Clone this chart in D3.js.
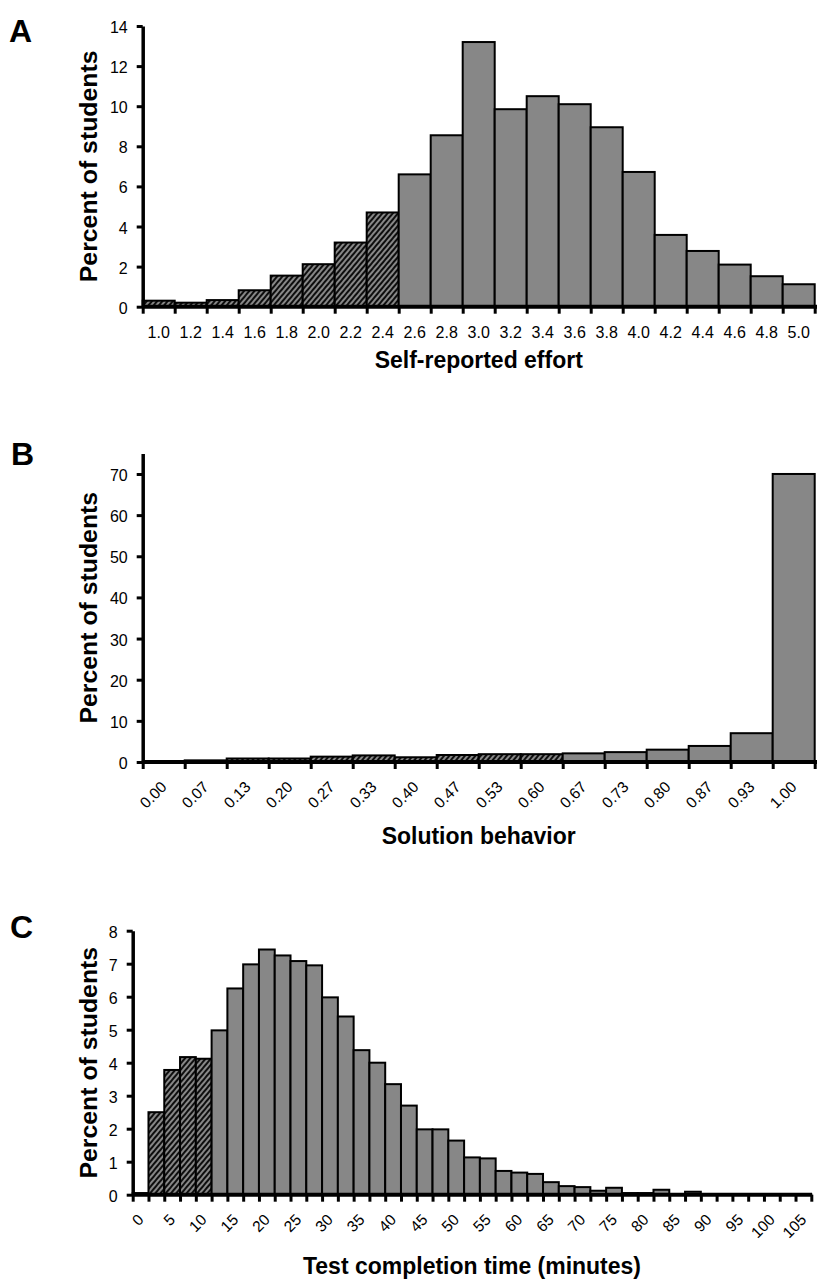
<!DOCTYPE html>
<html>
<head>
<meta charset="utf-8">
<script src="https://cdn.jsdelivr.net/npm/d3@7"></script>
<style>
  html, body { margin: 0; padding: 0; background: #fff; }
  svg { display: block; }
  text { font-family: "Liberation Sans", Arial, Helvetica, sans-serif; fill: #000; }
</style>
</head>
<body>
<svg id="fig" width="817" height="1279"></svg>
<script>
// ---- Panel A: self-reported effort ----
const effortBins = ["1.0","1.2","1.4","1.6","1.8","2.0","2.2","2.4","2.6","2.8","3.0",
                    "3.2","3.4","3.6","3.8","4.0","4.2","4.4","4.6","4.8","5.0"];
const effortPct  = [0.3, 0.2, 0.33, 0.82, 1.55, 2.12, 3.2, 4.7, 6.6, 8.55, 13.2,
                    9.85, 10.5, 10.1, 8.95, 6.72, 3.58, 2.78, 2.1, 1.52, 1.12];
const effortLowBins = 8;           // bins below 2.6 are hatched
const effortTicks = [0, 2, 4, 6, 8, 10, 12, 14];

// ---- Panel B: solution behavior ----
const solutionBins = ["0.00","0.07","0.13","0.20","0.27","0.33","0.40","0.47",
                      "0.53","0.60","0.67","0.73","0.80","0.87","0.93","1.00"];
const solutionPct  = [0.1, 0.4, 0.85, 0.85, 1.3, 1.6, 1.15, 1.7,
                      1.9, 1.9, 2.1, 2.4, 3.0, 3.9, 7.0, 70.0];
const solutionLowBins = 10;        // bins below 0.67 are hatched
const solutionTicks = [0, 10, 20, 30, 40, 50, 60, 70];

// ---- Panel C: test completion time (2.5-minute bins) ----
const timeBins = [0, 2.5, 5, 7.5, 10, 12.5, 15, 17.5, 20, 22.5, 25, 27.5, 30, 32.5, 35,
                  37.5, 40, 42.5, 45, 47.5, 50, 52.5, 55, 57.5, 60, 62.5, 65, 67.5, 70,
                  72.5, 75, 77.5, 80, 82.5, 85, 87.5, 90, 92.5, 95, 97.5, 100, 102.5, 105];
const timePct  = [0.05, 2.5, 3.78, 4.17, 4.12, 4.98, 6.25, 6.98, 7.43, 7.25, 7.08, 6.95,
                  5.98, 5.4, 4.38, 4.0, 3.35, 2.7, 1.98, 1.98, 1.64, 1.13, 1.1, 0.72,
                  0.67, 0.63, 0.38, 0.26, 0.23, 0.12, 0.21, 0.05, 0.05, 0.15, 0.02,
                  0.09, 0.01, 0.01, 0.01, 0.01, 0.01, 0.01, 0.01];
const timeLowBins = 5;             // bins below 12.5 minutes are hatched
const timeTicks = [0, 1, 2, 3, 4, 5, 6, 7, 8];
const timeLabelStep = 5;           // label every bin that starts on a multiple of 5

const BAR_FILL = "#878787";
const svg = d3.select("#fig");

// diagonal hatch used for the flagged bins
const defs = svg.append("defs");
const pat = defs.append("pattern")
  .attr("id", "hatch")
  .attr("patternUnits", "userSpaceOnUse")
  .attr("width", 4).attr("height", 4)
  .attr("patternTransform", "rotate(40)");
pat.append("rect").attr("width", 4).attr("height", 4).attr("fill", BAR_FILL);
pat.append("line").attr("x1", 2).attr("y1", -1).attr("x2", 2).attr("y2", 5)
  .attr("stroke", "#000").attr("stroke-width", 1.8);

function panel(o) {
  const g = svg.append("g");
  const n = o.bins.length;
  const x = d3.scaleBand().domain(o.bins).range([o.x0, o.x1]).padding(0);
  const edge = d3.scaleLinear().domain([0, n]).range([o.x0, o.x1]);
  const y = d3.scaleLinear().domain([0, o.yMax]).range([o.yBase, o.yTop]);

  // bars
  g.append("g").selectAll("rect")
    .data(o.bins.map((b, i) => ({ b, v: o.values[i], low: i < o.low })))
    .join("rect")
    .attr("x", d => x(d.b))
    .attr("width", x.bandwidth())
    .attr("y", d => y(d.v))
    .attr("height", d => o.yBase - y(d.v))
    .attr("fill", d => d.low ? "url(#hatch)" : BAR_FILL)
    .attr("stroke", "#000")
    .attr("stroke-width", 2);

  // x axis line with ticks at bin edges
  const xe = g.append("g")
    .attr("transform", `translate(0,${o.yBase})`)
    .call(d3.axisBottom(edge).tickValues(d3.range(n + 1)).tickSize(7).tickSizeOuter(0).tickFormat(""));
  xe.select(".domain").attr("stroke-width", 4).attr("d", `M${o.x0},0H${o.xEnd}`);
  xe.selectAll(".tick line").attr("stroke-width", 3);

  // x tick labels centred on bins
  const xl = g.append("g")
    .attr("transform", `translate(0,${o.yBase})`)
    .call(d3.axisBottom(x).tickSize(0).tickValues(o.labelValues || o.bins).tickFormat(o.labelFormat || (d => d)));
  xl.select(".domain").remove();
  const xt = xl.selectAll(".tick text").attr("y", null).attr("dy", null);
  if (o.rotate) {
    xt.attr("text-anchor", "end")
      .attr("transform", `translate(${o.rotDx},${o.rotDy}) rotate(-45)`)
      .style("font-size", o.rotSize + "px");
  } else {
    xt.attr("text-anchor", "middle")
      .attr("transform", `translate(0,${o.labelY - o.yBase}) scale(1,1.08)`)
      .style("font-size", "16px");
  }

  // y axis
  const ya = g.append("g")
    .attr("transform", `translate(${o.x0},0)`)
    .call(d3.axisLeft(y).tickValues(o.ticks).tickSize(6).tickSizeOuter(0));
  ya.select(".domain").attr("stroke-width", 3.5);
  ya.selectAll(".tick line").attr("stroke-width", 3);
  ya.selectAll(".tick text")
    .attr("x", null).attr("dy", null)
    .attr("text-anchor", "end")
    .attr("transform", "translate(-15,6.5) scale(1,1.08)")
    .style("font-size", "16px");

  // axis titles
  g.append("text")
    .attr("transform", `translate(97,${(o.yBase + o.yTop) / 2}) rotate(-90) scale(1.08,1)`)
    .attr("text-anchor", "middle")
    .style("font-size", "23px").style("font-weight", "bold")
    .text("Percent of students");
  g.append("text")
    .attr("transform", `translate(${(o.x0 + o.x1) / 2},${o.titleY}) scale(1,1.08)`)
    .attr("text-anchor", "middle")
    .style("font-size", "23px").style("font-weight", "bold")
    .text(o.xTitle);

  // panel letter
  g.append("text")
    .attr("x", o.letterX).attr("y", o.letterY)
    .style("font-size", "32px").style("font-weight", "bold")
    .text(o.letter);
}

panel({
  letter: "A", letterX: 9, letterY: 42,
  bins: effortBins, values: effortPct, low: effortLowBins,
  x0: 142.7, x1: 814.7, xEnd: 817,
  yBase: 306.7, yTop: 26, yMax: 14, ticks: effortTicks,
  rotate: false, labelY: 338,
  xTitle: "Self-reported effort", titleY: 368
});

panel({
  letter: "B", letterX: 11, letterY: 465,
  bins: solutionBins, values: solutionPct, low: solutionLowBins,
  x0: 142.7, x1: 814.7, xEnd: 817,
  yBase: 762, yTop: 453.4, yMax: 75, ticks: solutionTicks,
  rotate: true, rotDx: 4, rotDy: 26, rotSize: 15.5,
  xTitle: "Solution behavior", titleY: 844
});

panel({
  letter: "C", letterX: 10, letterY: 938,
  bins: timeBins, values: timePct, low: timeLowBins,
  x0: 132.7, x1: 811.3, xEnd: 812,
  yBase: 1194.7, yTop: 930.7, yMax: 8, ticks: timeTicks,
  rotate: true, rotDx: 4, rotDy: 26, rotSize: 15.5,
  labelValues: timeBins.filter(b => b % timeLabelStep === 0),
  labelFormat: d => String(d),
  xTitle: "Test completion time (minutes)", titleY: 1274
});
</script>
</body>
</html>
